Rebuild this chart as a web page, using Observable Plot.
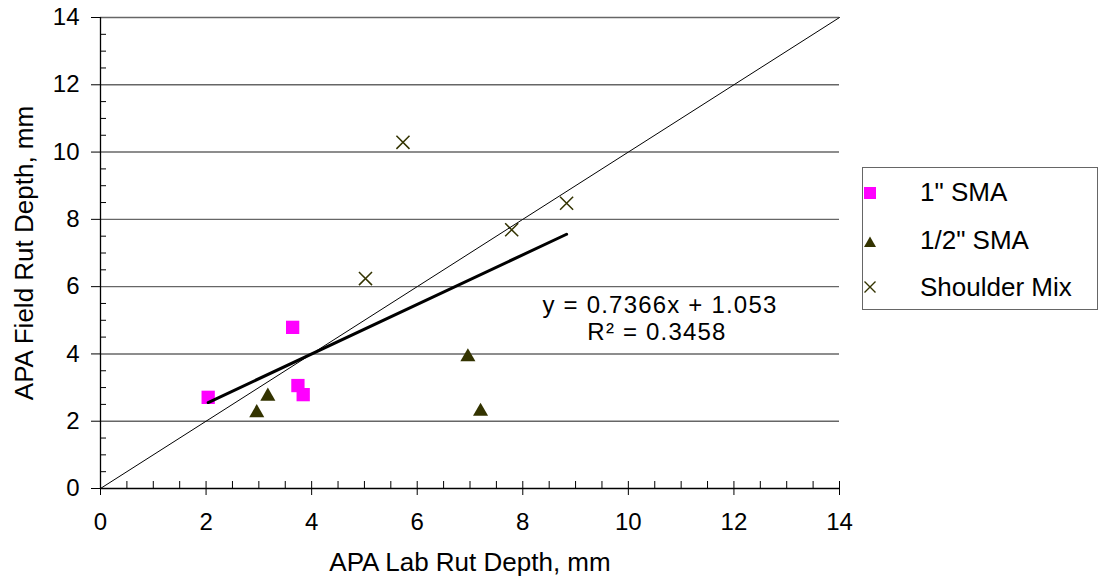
<!DOCTYPE html>
<html><head><meta charset="utf-8">
<script src="https://cdn.jsdelivr.net/npm/d3@7"></script>
<script src="https://cdn.jsdelivr.net/npm/@observablehq/plot@0.6"></script>
<style>
body{margin:0;background:#fff;}
#wrap{position:relative;width:1099px;height:577px;font-family:"Liberation Sans",Arial,sans-serif;color:#000;}
#wrap svg{position:absolute;left:0;top:0;}
#legend{position:absolute;left:862px;top:167px;width:236px;height:143px;border:1px solid #666;box-sizing:border-box;background:#fff;}
.lg-item{position:absolute;left:57px;font-size:26px;line-height:26px;white-space:nowrap;}
.lg-mark{position:absolute;left:36px;width:14px;height:14px;}
.eq{position:absolute;font-size:24px;line-height:27px;letter-spacing:1.2px;white-space:nowrap;transform:translateX(-50%);}
#ytitle{position:absolute;left:24px;top:253px;font-size:26px;line-height:26px;white-space:nowrap;transform:translate(-50%,-50%) rotate(-90deg);}
</style></head>
<body>
<div id="wrap"></div>
<script>
// ---- data ----
const seriesNames = ['1" SMA', '1/2" SMA', 'Shoulder Mix'];
const seriesColors = ["#ff00ff", "#333300", "#333300"];
const sma1Lab = [2.04, 3.64, 3.74, 3.84];
const sma1Field = [2.71, 4.79, 3.06, 2.79];
const smaHalfLab = [2.96, 3.17, 6.96, 7.20];
const smaHalfField = [2.25, 2.74, 3.91, 2.29];
const shoulderLab = [5.02, 5.73, 7.79, 8.83];
const shoulderField = [6.24, 10.29, 7.69, 8.48];
const trendSlope = 0.7366;
const trendIntercept = 1.053;
const trendR2 = 0.3458;
const xTicks = [0, 2, 4, 6, 8, 10, 12, 14];
const yTicks = [0, 2, 4, 6, 8, 10, 12, 14];
const xLabel = "APA Lab Rut Depth, mm";
const yLabel = "APA Field Rut Depth, mm";

// ---- derived ----
const toPts = (xs, ys) => xs.map((x, i) => ({x, y: ys[i]}));
const sma1 = toPts(sma1Lab, sma1Field);
const smaHalf = toPts(smaHalfLab, smaHalfField);
const shoulder = toPts(shoulderLab, shoulderField);
const allLab = [...sma1Lab, ...smaHalfLab, ...shoulderLab];
const trendPts = d3.extent(allLab).map(x => ({x, y: trendSlope * x + trendIntercept}));
const diag = xTicks.map(t => ({x: t, y: t}));
const halfStep = (xTicks[1] - xTicks[0]) / 4;
const minorX = d3.range(xTicks[0], xTicks[xTicks.length - 1] + 1e-9, halfStep).filter(v => !xTicks.includes(v));
const minorY = d3.range(yTicks[0], yTicks[yTicks.length - 1] + 1e-9, halfStep).filter(v => !yTicks.includes(v));
const font = '"Liberation Sans", Arial, sans-serif';

const chart = Plot.plot({
  width: 1099, height: 577,
  marginLeft: 100, marginRight: 260, marginTop: 17, marginBottom: 89,
  x: {domain: [xTicks[0], xTicks[xTicks.length - 1]]},
  y: {domain: [yTicks[0], yTicks[yTicks.length - 1]]},
  style: {fontFamily: font, fontSize: "24px", color: "#000", background: "#fff", overflow: "visible"},
  marks: [
    Plot.gridY(yTicks.filter(t => t > 0), {stroke: "#000", strokeOpacity: 0.6, strokeWidth: 1.4}),
    Plot.ruleX([xTicks[0]], {stroke: "#000", strokeWidth: 1.3}),
    Plot.ruleY([yTicks[0]], {stroke: "#000", strokeWidth: 1.3}),
    Plot.axisY(yTicks, {tickSize: 9, text: null, label: null, stroke: "#000"}),
    Plot.axisY(minorY, {tickSize: 6, dx: 6, text: null, label: null, stroke: "#000"}),
    Plot.axisY(yTicks, {tickSize: 0, tickPadding: 21, label: null, fontSize: 24}),
    Plot.axisX(xTicks, {tickSize: 14, dy: -7, text: null, label: null, stroke: "#000"}),
    Plot.axisX(minorX, {tickSize: 7, dy: -7, text: null, label: null, stroke: "#000"}),
    Plot.axisX(xTicks, {tickSize: 0, tickPadding: 24, label: null, fontSize: 24}),
    Plot.text([xLabel], {frameAnchor: "bottom", dy: 82, lineAnchor: "bottom", fontSize: 26}),
    Plot.dot(sma1, {x: "x", y: "y", symbol: "square", r: 7.5, fill: seriesColors[0]}),
    Plot.dot(smaHalf, {x: "x", y: "y", symbol: "triangle", r: 5.6, fill: seriesColors[1]}),
    Plot.dot(shoulder, {x: "x", y: "y", symbol: "times", r: 6, stroke: seriesColors[2], strokeWidth: 1.5}),
    Plot.line(diag, {x: "x", y: "y", stroke: "#000", strokeWidth: 1}),
    Plot.line(trendPts, {x: "x", y: "y", stroke: "#000", strokeWidth: 3})
  ]
});
const wrap = document.getElementById("wrap");
wrap.appendChild(chart);

// y title
const yt = document.createElement("div");
yt.id = "ytitle";
yt.textContent = yLabel;
wrap.appendChild(yt);

// equation annotation
const eq1 = document.createElement("div");
eq1.className = "eq";
eq1.style.left = "660px"; eq1.style.top = "291px";
eq1.textContent = `y = ${trendSlope}x + ${trendIntercept}`;
wrap.appendChild(eq1);
const eq2 = document.createElement("div");
eq2.className = "eq";
eq2.style.left = "657px"; eq2.style.top = "318px";
eq2.textContent = `R\u00B2 = ${trendR2}`;
wrap.appendChild(eq2);

// legend
const legend = document.createElement("div");
legend.id = "legend";
const rowTops = [11, 59, 106];
const markTops = [18, 67, 112];
const markSvgs = [
  `<rect x="1" y="1" width="12" height="12" fill="${seriesColors[0]}"/>`,
  `<path d="M7,1.5 L13,12 L1,12 Z" fill="${seriesColors[1]}"/>`,
  `<path d="M1.5,1.5 L12.5,12.5 M12.5,1.5 L1.5,12.5" stroke="${seriesColors[2]}" stroke-width="1.4" fill="none"/>`
];
seriesNames.forEach((name, i) => {
  const m = document.createElementNS("http://www.w3.org/2000/svg", "svg");
  m.setAttribute("class", "lg-mark");
  m.setAttribute("viewBox", "0 0 14 14");
  m.style.top = markTops[i] + "px";
  m.innerHTML = markSvgs[i];
  legend.appendChild(m);
  const t = document.createElement("div");
  t.className = "lg-item";
  t.style.top = rowTops[i] + "px";
  t.textContent = name;
  legend.appendChild(t);
});
wrap.appendChild(legend);
</script>
</body></html>
